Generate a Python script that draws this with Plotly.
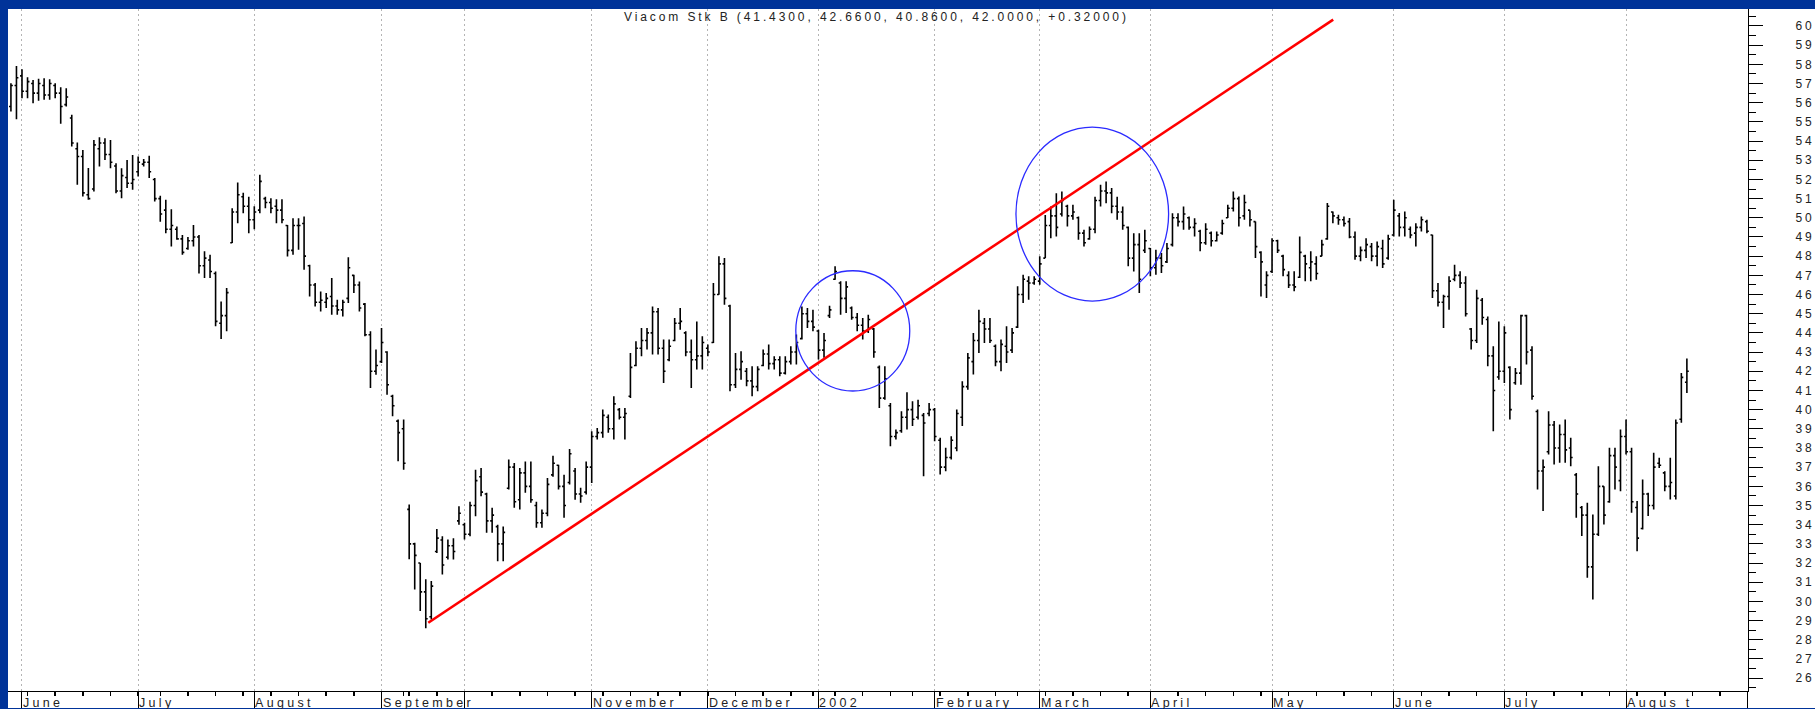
import numpy as np
import pandas as pd
import plotly.graph_objects as go

# ---------------- data (daily bars, trading-day index 0 = 2001-06-01) ----------------
FIRST_POS = -2  # first bar = 2001-05-30

highs = [
    57.01, 57.92, 57.74, 57.33, 57.19, 57.25, 57.28, 57.22, 57.01, 56.80,
    56.75, 55.37, 53.92, 53.54, 52.60, 54.06, 54.20, 54.15, 54.06, 52.85,
    52.59, 53.02, 53.28, 53.20, 53.06, 53.23, 52.07, 51.15, 50.94, 50.45,
    49.55, 49.11, 49.00, 49.63, 49.11, 48.25, 48.07, 47.20, 45.64, 46.34,
    50.50, 51.84, 51.30, 51.10, 50.60, 52.24, 51.10, 51.02, 50.97, 50.97,
    49.63, 49.98, 49.98, 50.07, 47.55, 46.60, 46.16, 46.08, 46.86, 45.73,
    45.73, 47.95, 47.03, 46.68, 45.56, 44.08, 43.13, 44.25, 43.04, 40.78,
    39.48, 39.48, 35.05, 33.06, 32.00, 31.15, 31.06, 33.78, 33.40, 33.23,
    33.30, 34.96, 34.10, 35.20, 36.87, 36.96, 35.66, 34.88, 34.00, 33.90,
    37.40, 37.22, 36.96, 37.30, 37.30, 35.20, 34.79, 36.44, 37.60, 37.13,
    36.60, 37.95, 36.96, 35.92, 37.30, 38.87, 39.04, 40.00, 39.74, 40.70,
    40.09, 40.09, 42.95, 43.56, 44.26, 44.26, 45.38, 45.30, 43.65, 43.65,
    44.78, 45.30, 44.08, 43.65, 44.60, 43.82, 43.39, 46.60, 47.99, 47.90,
    45.47, 42.95, 43.04, 42.17, 42.26, 42.26, 43.13, 43.39, 42.78, 42.78,
    42.78, 43.30, 43.91, 45.38, 45.30, 45.21, 44.17, 43.99, 45.42, 47.47,
    46.69, 46.69, 45.38, 45.04, 44.78, 44.95, 44.26, 42.30, 42.26, 40.35,
    38.96, 39.92, 40.90, 40.44, 40.52, 39.83, 40.35, 40.09, 38.53, 38.01,
    38.61, 40.00, 41.48, 42.95, 43.99, 45.21, 44.78, 44.78, 43.39, 43.65,
    44.34, 44.26, 46.43, 47.03, 46.95, 46.95, 47.99, 50.15, 50.59, 51.28,
    51.37, 50.68, 50.68, 50.07, 49.38, 49.55, 51.10, 51.72, 51.89, 51.55,
    51.10, 50.59, 49.55, 49.20, 49.20, 49.38, 48.42, 48.33, 48.16, 48.68,
    50.24, 50.24, 50.59, 50.07, 49.98, 49.38, 49.72, 49.29, 49.29, 49.90,
    50.68, 51.37, 51.11, 51.20, 50.40, 49.81, 48.25, 47.21, 48.94, 48.85,
    48.07, 47.21, 47.21, 49.03, 48.07, 48.25, 47.99, 48.85, 50.77, 50.33,
    50.16, 50.07, 49.99, 49.29, 48.51, 48.94, 48.68, 48.77, 48.85, 49.12,
    50.94, 50.25, 50.33, 49.55, 49.72, 50.07, 49.90, 49.12, 46.60, 45.99,
    46.95, 47.55, 47.21, 46.95, 44.26, 46.25, 45.82, 44.86, 43.30, 44.60,
    44.34, 42.26, 42.17, 44.95, 44.95, 43.30, 40.00, 37.40, 39.92, 39.40,
    39.22, 39.48, 38.53, 36.70, 34.97, 35.14, 34.53, 37.05, 36.01, 38.01,
    38.01, 38.96, 39.48, 38.01, 35.23, 36.36, 35.66, 37.75, 37.49, 36.79,
    37.49, 39.48, 41.91, 42.66,
]

lows = [
    55.54, 55.14, 56.23, 56.23, 55.97, 56.10, 56.15, 56.15, 56.23, 54.90,
    55.80, 53.72, 51.72, 51.11, 50.94, 51.37, 52.67, 53.02, 52.59, 51.28,
    51.02, 51.55, 51.46, 52.15, 52.67, 52.07, 50.85, 49.80, 49.20, 48.50,
    48.85, 48.07, 48.33, 48.50, 47.10, 46.86, 46.86, 44.34, 43.68, 44.08,
    48.68, 49.72, 50.24, 49.20, 49.40, 50.24, 50.50, 50.24, 49.72, 49.72,
    47.98, 48.07, 48.33, 47.29, 45.90, 45.38, 45.12, 45.30, 44.95, 44.95,
    44.86, 45.56, 46.08, 45.12, 43.82, 41.13, 41.82, 42.43, 40.78, 39.65,
    37.31, 36.87, 32.20, 30.62, 29.50, 28.60, 29.06, 32.53, 31.41, 32.19,
    32.19, 34.00, 33.23, 33.40, 34.44, 35.48, 33.58, 33.58, 32.10, 32.10,
    35.83, 34.88, 34.79, 35.66, 35.14, 33.84, 33.84, 34.44, 36.50, 35.83,
    34.36, 36.10, 35.30, 35.14, 35.57, 36.18, 38.44, 38.53, 38.79, 38.44,
    39.48, 38.44, 40.61, 42.26, 42.78, 43.13, 42.87, 42.87, 41.39, 42.52,
    43.56, 44.17, 42.78, 41.13, 42.09, 42.09, 42.78, 43.47, 45.99, 45.47,
    40.96, 41.13, 41.56, 41.22, 40.70, 40.96, 42.26, 42.09, 42.09, 41.74,
    41.83, 42.35, 42.35, 43.65, 44.26, 44.08, 42.61, 42.70, 44.78, 46.77,
    44.95, 45.04, 44.69, 44.08, 43.65, 43.99, 42.70, 40.09, 40.52, 38.09,
    38.44, 38.79, 38.96, 39.14, 39.48, 36.53, 39.66, 38.35, 36.62, 36.79,
    37.40, 37.83, 39.14, 41.04, 41.83, 42.95, 43.47, 43.47, 42.26, 42.00,
    42.43, 42.95, 44.26, 45.56, 45.73, 46.51, 46.51, 47.90, 48.94, 49.03,
    50.07, 49.55, 49.90, 48.85, 48.50, 48.85, 49.20, 50.59, 50.76, 50.24,
    49.90, 49.38, 47.47, 47.20, 46.08, 48.16, 46.95, 47.03, 47.12, 47.64,
    48.50, 49.55, 49.38, 49.38, 49.03, 48.25, 48.60, 48.51, 48.77, 49.12,
    49.99, 50.33, 49.55, 49.90, 49.55, 47.90, 45.90, 45.82, 47.12, 48.16,
    46.95, 46.34, 46.17, 46.86, 46.69, 46.69, 46.77, 47.99, 48.85, 49.72,
    49.64, 49.55, 48.94, 47.81, 47.73, 47.90, 47.73, 47.47, 47.38, 47.81,
    49.03, 49.03, 49.03, 48.94, 48.51, 49.29, 49.20, 45.82, 45.38, 44.26,
    45.21, 46.69, 46.34, 44.86, 43.13, 43.47, 44.43, 42.26, 38.87, 41.56,
    41.39, 39.48, 41.30, 41.30, 42.35, 40.52, 35.84, 34.71, 37.66, 37.14,
    37.23, 37.23, 37.05, 34.36, 33.41, 31.23, 30.10, 33.41, 34.01, 35.14,
    35.84, 35.75, 37.66, 34.62, 32.62, 33.75, 34.45, 34.79, 36.96, 35.75,
    35.31, 35.31, 39.31, 40.86,
]

opens = [
    55.8, 56.9, 57.4, 56.6, 57.0, 56.5, 56.9, 56.4, 56.9, 56.5,
    55.9, 55.2, 53.6, 53.2, 51.2, 51.5, 53.6, 53.9, 53.3, 52.7,
    51.4, 52.1, 51.8, 52.4, 52.8, 52.9, 52.0, 51.0, 50.4, 49.4,
    49.4, 48.9, 48.4, 48.8, 49.0, 47.5, 47.8, 47.1, 44.5, 44.9,
    48.7, 50.3, 51.1, 50.6, 49.9, 50.4, 51.0, 50.8, 50.6, 50.4,
    49.6, 48.3, 49.6, 49.7, 47.5, 46.5, 45.6, 45.6, 45.9, 45.4,
    45.2, 45.8, 47.0, 46.5, 45.5, 43.9, 42.0, 42.5, 43.0, 40.7,
    39.4, 39.0, 34.8, 33.0, 32.0, 30.5, 29.2, 32.6, 33.2, 32.3,
    32.9, 34.2, 34.0, 33.5, 35.0, 36.5, 35.6, 34.2, 33.9, 33.0,
    35.9, 37.0, 35.3, 36.7, 36.0, 35.0, 34.1, 34.6, 36.6, 37.1,
    36.0, 36.2, 36.8, 35.6, 35.7, 37.0, 38.6, 38.8, 39.6, 39.0,
    40.0, 39.6, 40.7, 42.3, 43.2, 43.6, 44.0, 45.1, 43.2, 42.6,
    43.6, 44.5, 44.0, 43.0, 42.6, 42.8, 43.2, 43.5, 46.0, 47.6,
    45.4, 41.3, 42.1, 42.0, 41.5, 41.2, 42.3, 42.9, 42.4, 42.6,
    41.9, 42.5, 43.0, 43.7, 45.0, 44.6, 44.1, 43.1, 44.9, 46.8,
    46.6, 45.8, 45.3, 44.8, 44.4, 44.1, 44.2, 42.2, 40.6, 40.2,
    38.6, 38.9, 39.6, 40.0, 39.6, 39.7, 39.8, 40.0, 38.4, 37.0,
    37.5, 38.0, 39.6, 41.2, 42.5, 43.6, 44.5, 44.2, 43.3, 42.5,
    43.3, 43.1, 44.3, 46.0, 46.7, 46.6, 46.7, 47.9, 49.6, 50.1,
    50.2, 50.6, 50.1, 50.0, 49.2, 48.9, 49.4, 50.9, 51.4, 51.3,
    50.6, 50.3, 49.5, 47.9, 48.6, 48.3, 48.4, 47.4, 47.9, 47.7,
    48.6, 50.0, 49.8, 50.0, 49.5, 49.3, 48.7, 49.2, 48.8, 49.2,
    50.0, 50.5, 51.0, 50.1, 50.4, 49.8, 48.2, 46.5, 47.2, 48.8,
    48.0, 47.0, 46.5, 46.9, 48.0, 47.4, 47.6, 48.0, 48.9, 50.3,
    50.0, 49.9, 49.8, 49.0, 48.0, 48.3, 48.5, 48.0, 48.4, 47.9,
    49.1, 50.1, 49.5, 49.4, 49.2, 49.5, 49.8, 49.1, 46.2, 45.6,
    45.9, 46.8, 47.0, 46.6, 44.2, 43.6, 45.7, 44.7, 42.8, 41.7,
    42.0, 42.2, 41.4, 41.9, 44.9, 43.1, 39.9, 36.8, 37.8, 39.2,
    38.0, 38.7, 38.0, 36.6, 34.9, 34.5, 31.8, 33.5, 36.0, 35.2,
    37.6, 36.3, 38.6, 37.8, 34.9, 33.8, 35.6, 35.0, 37.2, 36.7,
    36.0, 35.5, 39.5, 41.43,
]

closes = [
    56.9, 57.3, 56.6, 57.1, 56.5, 57.0, 56.4, 57.0, 56.5, 55.8,
    56.3, 53.9, 53.2, 51.3, 51.0, 53.8, 53.9, 53.3, 52.9, 51.4,
    52.2, 51.8, 52.0, 52.9, 52.9, 52.4, 51.0, 50.2, 49.4, 49.6,
    48.9, 48.2, 48.8, 49.0, 47.5, 47.9, 47.2, 44.6, 44.9, 46.1,
    50.3, 51.2, 50.6, 49.9, 50.3, 51.9, 50.8, 50.5, 50.4, 49.9,
    48.3, 49.6, 49.6, 48.0, 46.5, 45.6, 45.7, 45.8, 45.4, 45.2,
    45.6, 47.4, 46.5, 45.3, 43.9, 42.0, 42.3, 43.5, 41.3, 40.2,
    38.8, 37.2, 33.0, 32.4, 30.5, 29.1, 30.8, 33.3, 31.9, 32.9,
    32.6, 34.6, 33.5, 35.0, 36.3, 35.7, 34.2, 34.5, 33.0, 33.6,
    37.0, 35.2, 36.7, 36.0, 35.3, 34.1, 34.6, 36.1, 37.2, 36.0,
    35.0, 37.7, 35.6, 35.5, 37.0, 38.6, 38.8, 39.7, 39.0, 40.3,
    39.6, 39.8, 42.2, 43.2, 43.6, 44.0, 45.1, 43.2, 42.0, 43.3,
    44.5, 44.6, 43.0, 42.6, 42.8, 43.5, 43.0, 46.0, 47.6, 45.8,
    41.3, 42.1, 42.5, 41.5, 41.2, 42.1, 42.9, 42.4, 42.6, 41.9,
    42.5, 43.0, 43.5, 45.0, 44.6, 44.3, 43.1, 43.6, 45.2, 47.2,
    45.8, 46.4, 44.8, 44.4, 44.1, 44.7, 43.0, 40.6, 41.6, 38.6,
    38.8, 39.6, 40.0, 39.5, 40.2, 39.3, 40.0, 38.6, 37.0, 37.5,
    38.4, 39.8, 41.2, 42.7, 43.6, 44.6, 44.2, 43.6, 42.5, 43.4,
    43.0, 44.0, 46.0, 46.8, 46.6, 46.8, 47.6, 49.6, 50.1, 49.5,
    50.9, 50.1, 50.3, 49.2, 48.7, 49.4, 50.9, 51.4, 51.3, 50.6,
    50.3, 49.6, 47.9, 48.6, 46.8, 48.8, 47.4, 47.9, 47.5, 48.4,
    50.0, 49.8, 50.2, 49.5, 49.7, 48.7, 49.4, 48.8, 49.1, 49.7,
    50.5, 51.0, 50.0, 50.8, 49.9, 48.5, 47.7, 47.0, 48.8, 48.3,
    47.3, 46.5, 46.4, 48.2, 47.6, 47.7, 47.1, 48.6, 50.6, 50.1,
    49.9, 49.7, 49.0, 48.0, 48.3, 48.6, 48.0, 48.5, 47.6, 48.9,
    50.4, 49.5, 50.0, 49.1, 49.5, 49.9, 49.3, 46.2, 45.6, 45.9,
    46.7, 47.0, 46.6, 45.0, 43.6, 45.8, 44.8, 42.8, 41.0, 42.0,
    44.0, 40.0, 41.9, 44.9, 43.0, 40.7, 36.8, 37.0, 39.2, 38.0,
    38.7, 37.9, 37.5, 35.6, 34.5, 31.8, 33.5, 36.0, 34.5, 37.6,
    37.0, 38.6, 37.8, 35.2, 33.3, 35.6, 35.0, 37.0, 37.1, 36.0,
    36.2, 39.3, 41.68, 42.00,
]

# trend line (trading-day position, price) and circled areas
trend_start = (73.45, 28.89)
trend_end = (237.06, 60.33)
circle_1 = dict(x0=139.9, x1=160.5, y0=40.97, y1=47.24)
circle_2 = dict(x0=179.7, x1=207.3, y0=45.66, y1=54.73)

# month labels, June 2001 .. September 2002 (October label hidden in original)
month_labels = ["June", "July", "August", "September", "", "November", "December",
                "2002", "February", "March", "April", "May", "June", "July", "Augus t", ""]
price_ticks = list(range(26, 61))

# ---------------- trading calendar ----------------
HOLIDAYS = ["2001-07-04", "2001-09-03", "2001-09-11", "2001-09-12", "2001-09-13",
            "2001-09-14", "2001-11-22", "2001-12-25", "2002-01-01", "2002-01-21",
            "2002-02-18", "2002-03-29", "2002-05-27", "2002-07-04", "2002-09-02"]
days = pd.bdate_range("2001-05-30", "2002-09-06")
days = days[~days.isin(pd.to_datetime(HOLIDAYS))]
origin = list(days).index(pd.Timestamp("2001-06-01"))
positions = np.arange(len(days)) - origin

month_pos = [int(positions[i]) for i in range(len(days))
             if i > 0 and days[i].month != days[i - 1].month]
week_pos = [int(positions[i]) for i in range(len(days))
            if i > 0 and days[i].isocalendar()[1] != days[i - 1].isocalendar()[1]]

x = [FIRST_POS + i for i in range(len(highs))]

# ---------------- geometry ----------------
W, H = 1815, 709
ML, MR, MT, MB = 8, 67, 9, 18
PW, PH = W - ML - MR, H - MT - MB
XMIN, XMAX = -2.53, 312.05
YMIN, YMAX = 25.33, 60.886
BLUE = "#003399"
FONT = "Liberation Sans, Arial, sans-serif"
BOTTOM_BAND_TOP = 708  # px from top

fig = go.Figure()
fig.add_trace(go.Ohlc(
    x=x, open=opens, high=highs, low=lows, close=closes,
    increasing=dict(line=dict(color="#000000", width=1.6)),
    decreasing=dict(line=dict(color="#000000", width=1.6)),
    tickwidth=0.35, showlegend=False, hoverinfo="skip",
))

band = dict(type="rect", xref="paper", yref="paper", fillcolor=BLUE,
            line=dict(width=0), layer="above")
shapes = [
    dict(band, x0=-0.05, x1=0, y0=-0.1, y1=1.1),                       # left
    dict(band, x0=-0.05, x1=1.1, y0=1, y1=1.1),                        # top
    dict(band, x0=-0.05, x1=1.1, y0=-0.1,
         y1=-(BOTTOM_BAND_TOP - (H - MB)) / PH),                        # bottom
    dict(type="line", xref="x", yref="y", x0=trend_start[0], y0=trend_start[1],
         x1=trend_end[0], y1=trend_end[1], line=dict(color="#ff0000", width=2.6)),
    dict(type="circle", xref="x", yref="y", line=dict(color="#2b2bff", width=1.3), **circle_1),
    dict(type="circle", xref="x", yref="y", line=dict(color="#2b2bff", width=1.3), **circle_2),
]

annotations = []
last_change = closes[-1] - closes[-2]
title = (f"Viacom Stk B ({opens[-1]:.4f}, {highs[-1]:.4f}, {lows[-1]:.4f}, "
         f"{closes[-1]:.4f}, {last_change:+.5f})")
annotations.append(dict(
    xref="paper", yref="paper", x=(876 - ML) / PW, y=(H - MB - 17) / PH,
    text=f'<span style="letter-spacing:2.9px">{title}</span>', showarrow=False,
    xanchor="center", yanchor="middle", font=dict(family=FONT, size=12, color="#222222"),
))
for pos, lab in zip(month_pos, month_labels):
    if not lab:
        continue
    annotations.append(dict(
        xref="x", yref="paper", x=pos, y=-(695 - (H - MB)) / PH,
        text=f'<span style="letter-spacing:3.3px">{lab}</span>', showarrow=False,
        xanchor="left", yanchor="top", xshift=0, borderpad=0,
        font=dict(family=FONT, size=12.5, color="#222222"),
    ))


def spaced_tick(v):
    s = str(v)
    return f'<span style="letter-spacing:3px">{s[:-1]}</span>{s[-1]}'


fig.update_layout(
    template="none",
    width=W, height=H, margin=dict(l=ML, r=MR, t=MT, b=MB, pad=0, autoexpand=False),
    paper_bgcolor="#ffffff", plot_bgcolor="#ffffff", showlegend=False,
    font=dict(family=FONT, size=12, color="#222222"),
    shapes=shapes, annotations=annotations,
    xaxis=dict(
        range=[XMIN, XMAX], tickmode="array", tickvals=month_pos, showticklabels=False,
        ticks="outside", ticklen=17, tickcolor="#000000", tickwidth=1,
        showgrid=True, gridcolor="#b4b4b4", gridwidth=1, griddash="2px,3px",
        showline=True, linecolor="#000000", linewidth=1, zeroline=False,
        rangeslider=dict(visible=False), fixedrange=True, automargin=False,
        minor=dict(tickmode="array", tickvals=week_pos, ticks="outside", ticklen=4,
                   tickcolor="#000000", tickwidth=1.5, showgrid=False),
    ),
    yaxis=dict(
        side="right", range=[YMIN, YMAX], tickmode="array", tickvals=price_ticks,
        ticktext=[spaced_tick(v) for v in price_ticks],
        ticks="outside", ticklen=14, tickcolor="#000000", tickwidth=1,
        showgrid=False, showline=True, linecolor="#000000", linewidth=1, zeroline=False,
        tickfont=dict(family=FONT, size=12, color="#222222"), ticklabelstandoff=30,
        ticklabeloverflow="allow", automargin=False, fixedrange=True,
        minor=dict(tick0=0.5, dtick=1, ticks="outside", ticklen=7,
                   tickcolor="#000000", tickwidth=1, showgrid=False),
    ),
)

# the page body normally has an 8px margin; remove it so the figure fills the window
PAGE_FIX = ("document.body.style.margin='0';document.body.style.padding='0';"
            "document.body.style.overflow='hidden';"
            "document.documentElement.style.overflow='hidden';")
fig.write_html("out.html", post_script=PAGE_FIX,
               config={"displayModeBar": False, "staticPlot": True})
